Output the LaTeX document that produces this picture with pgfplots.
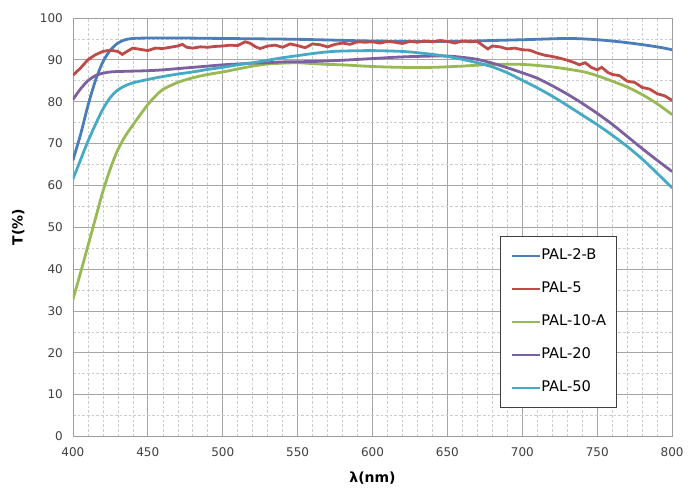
\documentclass[border=0pt]{standalone}
\usepackage{pgfplots}
\pgfplotsset{compat=1.18}
\usepackage{fontspec}
\setmainfont{DejaVu Sans}

\definecolor{cBlue}{HTML}{4A7EBB}
\definecolor{cRed}{HTML}{BE4B48}
\definecolor{cGreen}{HTML}{98B954}
\definecolor{cPurple}{HTML}{7D60A0}
\definecolor{cCyan}{HTML}{46AAC5}

\begin{document}
\begin{tikzpicture}
\begin{axis}[
  scale only axis,
  width=450pt, height=314.25pt,
  xmin=400, xmax=800, ymin=0, ymax=100,
  xtick={400,450,...,800}, ytick={0,10,...,100},
  minor x tick num=4, minor y tick num=1,
  major tick length=0pt, minor tick length=0pt,
  grid=both,
  major grid style={gray!70, line width=0.55pt},
  minor grid style={gray!40, dash pattern=on 2pt off 1.5pt, line width=0.4pt},
  axis line style={gray!75},
  /pgf/number format/assume math mode=true,
  ticklabel style={font=\fontsize{9}{11}\selectfont, text=black!75},
  yticklabel style={xshift=-4pt},
  xticklabel style={yshift=-5pt},
  xlabel={\textbf{λ(nm)}}, ylabel={\textbf{T(\%)}},
  label style={font=\fontsize{10.5}{12}\selectfont},
  xlabel style={at={(axis description cs:0.5,-0.1003)}, anchor=center},
  ylabel style={at={(axis description cs:-0.0911,0.5)}, anchor=center},
  legend cell align=left,
  legend style={at={(rel axis cs:0.713,0.48)}, anchor=north west,
    draw=black!75, fill=white, line width=0.6pt,
    inner xsep=8pt, inner ysep=8pt, row sep=10.75pt,
    font=\fontsize{11}{13}\selectfont,
    nodes={inner xsep=0pt, inner ysep=2pt, text height=8pt, text depth=2pt}},
  legend image code/.code={\draw[#1, line width=1.6pt] (0pt,0pt) -- (21pt,0pt);},
]

\addplot[cBlue, line width=2.1pt, smooth] coordinates {
(400,66) (405,72) (410,79) (415,85) (420,89.5) (425,92.3) (430,94) (435,94.8)
(440,95.1) (450,95.2) (475,95.2) (500,95.1) (550,94.9) (600,94.5) (650,94.4)
(700,94.8) (730,95.1) (750,94.8) (770,94.1) (790,93.1) (800,92.4)
};
\addlegendentry{PAL-2-B}

\addplot[cRed, line width=2.1pt] coordinates {
(400,86.3) (405,88) (410,90) (415,91.2) (420,92) (425,92.3) (430,92.0) (433,91.3)
(437,92.2) (440,92.8) (445,92.5) (450,92.2) (455,92.8) (460,92.7) (465,93)
(470,93.3) (473,93.7) (476,93.0) (480,92.8) (485,93.1) (490,93.0) (495,93.2)
(500,93.3) (505,93.5) (510,93.4) (515,94.3) (518,94.0) (522,93.1) (525,92.7)
(530,93.3) (535,93.5) (540,93.0) (545,93.8) (550,93.4) (555,92.9) (560,93.8)
(565,93.6) (570,93.1) (575,93.7) (580,94.0) (585,93.7) (590,94.3) (595,94.2)
(600,94.3) (605,94.0) (610,94.4) (615,94.2) (620,93.9) (625,94.4) (630,94.2)
(635,94.5) (640,94.3) (645,94.6) (650,94.4) (655,94.0) (660,94.5) (665,94.3)
(670,94.4) (673,93.6) (677,92.6) (680,93.3) (685,93.1) (690,92.6) (695,92.8)
(700,92.4) (705,92.3) (710,91.6) (715,91.1) (720,90.8) (725,90.4) (730,89.9)
(735,89.3) (738,88.8) (742,89.3) (746,88.2) (750,87.6) (753,88.2) (757,87.0)
(760,86.5) (765,86.2) (770,84.9) (775,84.6) (780,83.4) (785,83.0) (790,81.9)
(795,81.4) (800,80.3)
};
\addlegendentry{PAL-5}

\addplot[cGreen, line width=2.1pt, smooth] coordinates {
(400,32.7) (405,39) (410,45.5) (415,52) (420,58.5) (425,64) (430,68.5) (435,71.8)
(440,74.4) (445,76.9) (450,79.3) (455,81.3) (460,82.9) (470,84.6) (480,85.7)
(490,86.5) (500,87.1) (510,87.8) (520,88.5) (530,89) (540,89.2) (550,89.3)
(560,89.1) (570,88.9) (580,88.8) (600,88.4) (620,88.2) (640,88.2) (660,88.5)
(680,88.9) (700,88.9) (720,88.3) (740,87.2) (750,86.2) (760,84.9) (770,83.5)
(780,81.7) (790,79.5) (800,76.9)
};
\addlegendentry{PAL-10-A}

\addplot[cPurple, line width=2.1pt, smooth] coordinates {
(400,80.5) (405,83) (410,85) (415,86.2) (420,86.8) (425,87.1) (430,87.2) (440,87.3)
(450,87.4) (460,87.6) (470,87.9) (480,88.2) (490,88.5) (500,88.8) (510,89.0)
(520,89.2) (530,89.3) (540,89.5) (560,89.6) (580,89.9) (600,90.3) (620,90.7)
(640,90.9) (650,90.9) (660,90.6) (670,90.1) (680,89.2) (690,88.1) (700,86.9)
(710,85.6) (720,83.8) (730,81.8) (740,79.6) (750,77.2) (760,74.6) (770,71.7)
(780,68.8) (790,66.0) (800,63.3)
};
\addlegendentry{PAL-20}

\addplot[cCyan, line width=2.1pt, smooth] coordinates {
(400,61.5) (405,66) (410,70.5) (415,74.5) (420,78.2) (425,81) (430,82.8) (435,83.8)
(440,84.5) (450,85.3) (460,86.0) (470,86.6) (480,87.1) (490,87.7) (500,88.2)
(510,88.8) (520,89.3) (530,89.9) (540,90.5) (550,91) (560,91.5) (570,91.9)
(580,92.1) (600,92.2) (620,92.0) (630,91.7) (640,91.3) (650,90.8) (660,90.1)
(670,89.3) (680,88.3) (690,86.9) (700,85.1) (710,83.3) (720,81.3) (730,79.1)
(740,76.8) (750,74.5) (760,72.0) (770,69.3) (780,66.3) (790,62.9) (800,59.4)
};
\addlegendentry{PAL-50}

\end{axis}
\path (current axis.south west) ++(-54.75pt,-38.25pt) rectangle ++(516pt,366pt);
\end{tikzpicture}
\end{document}
